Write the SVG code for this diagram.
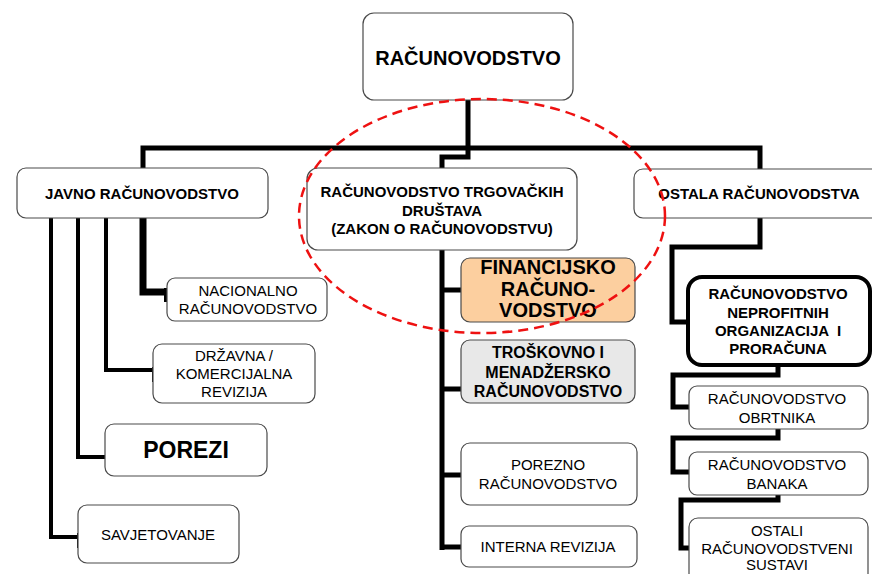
<svg xmlns="http://www.w3.org/2000/svg" width="872" height="574" viewBox="0 0 872 574">
<style>
.box{fill:#fff;stroke:#4a4a4a;stroke-width:1.2}
.t{font-family:"Liberation Sans",Arial,sans-serif;text-anchor:middle;fill:#000}
.b{font-weight:bold}
.n{font-size:15px}
.c{fill:none;stroke:#000;stroke-width:5;stroke-linejoin:miter;stroke-linecap:butt}
</style>
<rect width="872" height="574" fill="#fff"/>
<g id="connectors">
<path class="c" d="M468,100 V157 H442 V169"/>
<path class="c" d="M143,169 V148 H760 V169"/>
<path class="c" style="stroke-width:7" d="M143,218 V292 H168"/>
<rect x="164" y="288" width="8" height="14" fill="#000"/>
<path class="c" style="stroke-width:4" d="M106,218 V370 H154"/>
<rect x="152" y="367" width="4" height="15" fill="#000"/>
<path class="c" style="stroke-width:4" d="M78,218 V457 H106"/>
<path class="c" style="stroke-width:4" d="M51,218 V537 H79"/>
<rect x="77" y="533" width="3" height="15" fill="#000"/>
<path class="c" d="M442,250 V550"/>
<path class="c" d="M442,290 H462 M442,389 H462 M442,475 H462 M442,547 H462"/>
<path class="c" d="M760,218 V247 H672 V322 H688"/>
<path class="c" d="M778,365 V375 H673 V407 H690"/>
<path class="c" d="M778,429 V438 H673 V472 H690"/>
<path class="c" d="M778,495 V500 H681 V548 H690"/>
</g>
<g id="n-root"><rect class="box" x="363" y="13" width="210" height="87" rx="11"/><text class="t b" x="468" y="65" font-size="20">RAČUNOVODSTVO</text></g>
<g id="n-javno"><rect class="box" x="17" y="168" width="251" height="50" rx="9"/><text class="t b n" x="142" y="199">JAVNO RAČUNOVODSTVO</text></g>
<g id="n-trgovacka"><rect class="box" x="307" y="168" width="270" height="82" rx="11"/><text class="t b n" x="442"><tspan x="442" y="197">RAČUNOVODSTVO TRGOVAČKIH</tspan><tspan x="442" y="215.5">DRUŠTAVA</tspan><tspan x="442" y="234">(ZAKON O RAČUNOVODSTVU)</tspan></text></g>
<g id="n-ostala"><rect class="box" x="634" y="169" width="250" height="49" rx="9"/><text class="t b n" x="759" y="199">OSTALA RAČUNOVODSTVA</text></g>
<g id="n-nacionalno"><rect class="box" x="167" y="278" width="160" height="43" rx="8"/><text class="t n"><tspan x="248" y="296">NACIONALNO</tspan><tspan x="248" y="314">RAČUNOVODSTVO</tspan></text></g>
<g id="n-drzavna"><rect class="box" x="153" y="344" width="162" height="59" rx="9"/><text class="t n"><tspan x="234" y="361">DRŽAVNA /</tspan><tspan x="234" y="379">KOMERCIJALNA</tspan><tspan x="234" y="397">REVIZIJA</tspan></text></g>
<g id="n-porezi"><rect class="box" x="105" y="424" width="162" height="52" rx="9"/><text class="t b" x="186" y="458" font-size="23">POREZI</text></g>
<g id="n-savjetovanje"><rect class="box" x="78" y="505" width="161" height="58" rx="9"/><text class="t n" x="158" y="540">SAVJETOVANJE</text></g>
<g id="n-financijsko"><rect x="461" y="258" width="174" height="64" rx="9" fill="#fccf9f" stroke="#4a4a4a" stroke-width="1.2"/><text class="t b" font-size="20"><tspan x="548" y="274">FINANCIJSKO</tspan><tspan x="548" y="295.5">RAČUNO-</tspan><tspan x="548" y="317">VODSTVO</tspan></text></g>
<g id="n-troskovno"><rect x="461" y="340" width="174" height="63" rx="9" fill="#e8e8e8" stroke="#4a4a4a" stroke-width="1.2"/><text class="t b" font-size="16"><tspan x="548" y="358">TROŠKOVNO I</tspan><tspan x="548" y="377.5">MENADŽERSKO</tspan><tspan x="548" y="397">RAČUNOVODSTVO</tspan></text></g>
<g id="n-porezno"><rect class="box" x="461" y="443" width="176" height="62" rx="9"/><text class="t n"><tspan x="548" y="470">POREZNO</tspan><tspan x="548" y="489">RAČUNOVODSTVO</tspan></text></g>
<g id="n-interna"><rect class="box" x="461" y="526" width="176" height="41" rx="8"/><text class="t n" x="548" y="552">INTERNA REVIZIJA</text></g>
<g id="n-neprofitne"><rect x="688" y="277" width="182" height="88" rx="14" fill="#fff" stroke="#000" stroke-width="4"/><text class="t b n" style="white-space:pre"><tspan x="778" y="299">RAČUNOVODSTVO</tspan><tspan x="778" y="317.5">NEPROFITNIH</tspan><tspan x="778" y="336">ORGANIZACIJA  I</tspan><tspan x="778" y="354">PRORAČUNA</tspan></text></g>
<g id="n-obrtnici"><rect class="box" x="689" y="386" width="179" height="43" rx="8"/><text class="t n"><tspan x="777" y="404">RAČUNOVODSTVO</tspan><tspan x="777" y="423">OBRTNIKA</tspan></text></g>
<g id="n-banke"><rect class="box" x="689" y="452" width="179" height="43" rx="8"/><text class="t n"><tspan x="777" y="470">RAČUNOVODSTVO</tspan><tspan x="777" y="489">BANAKA</tspan></text></g>
<g id="n-ostali"><rect class="box" x="689" y="518" width="179" height="80" rx="9"/><text class="t n"><tspan x="777" y="536">OSTALI</tspan><tspan x="777" y="553.5">RAČUNOVODSTVENI</tspan><tspan x="777" y="570">SUSTAVI</tspan></text></g>
<ellipse cx="482" cy="216" rx="183" ry="117" fill="none" stroke="#ee1111" stroke-width="2.5" stroke-dasharray="10 6"/>
</svg>
